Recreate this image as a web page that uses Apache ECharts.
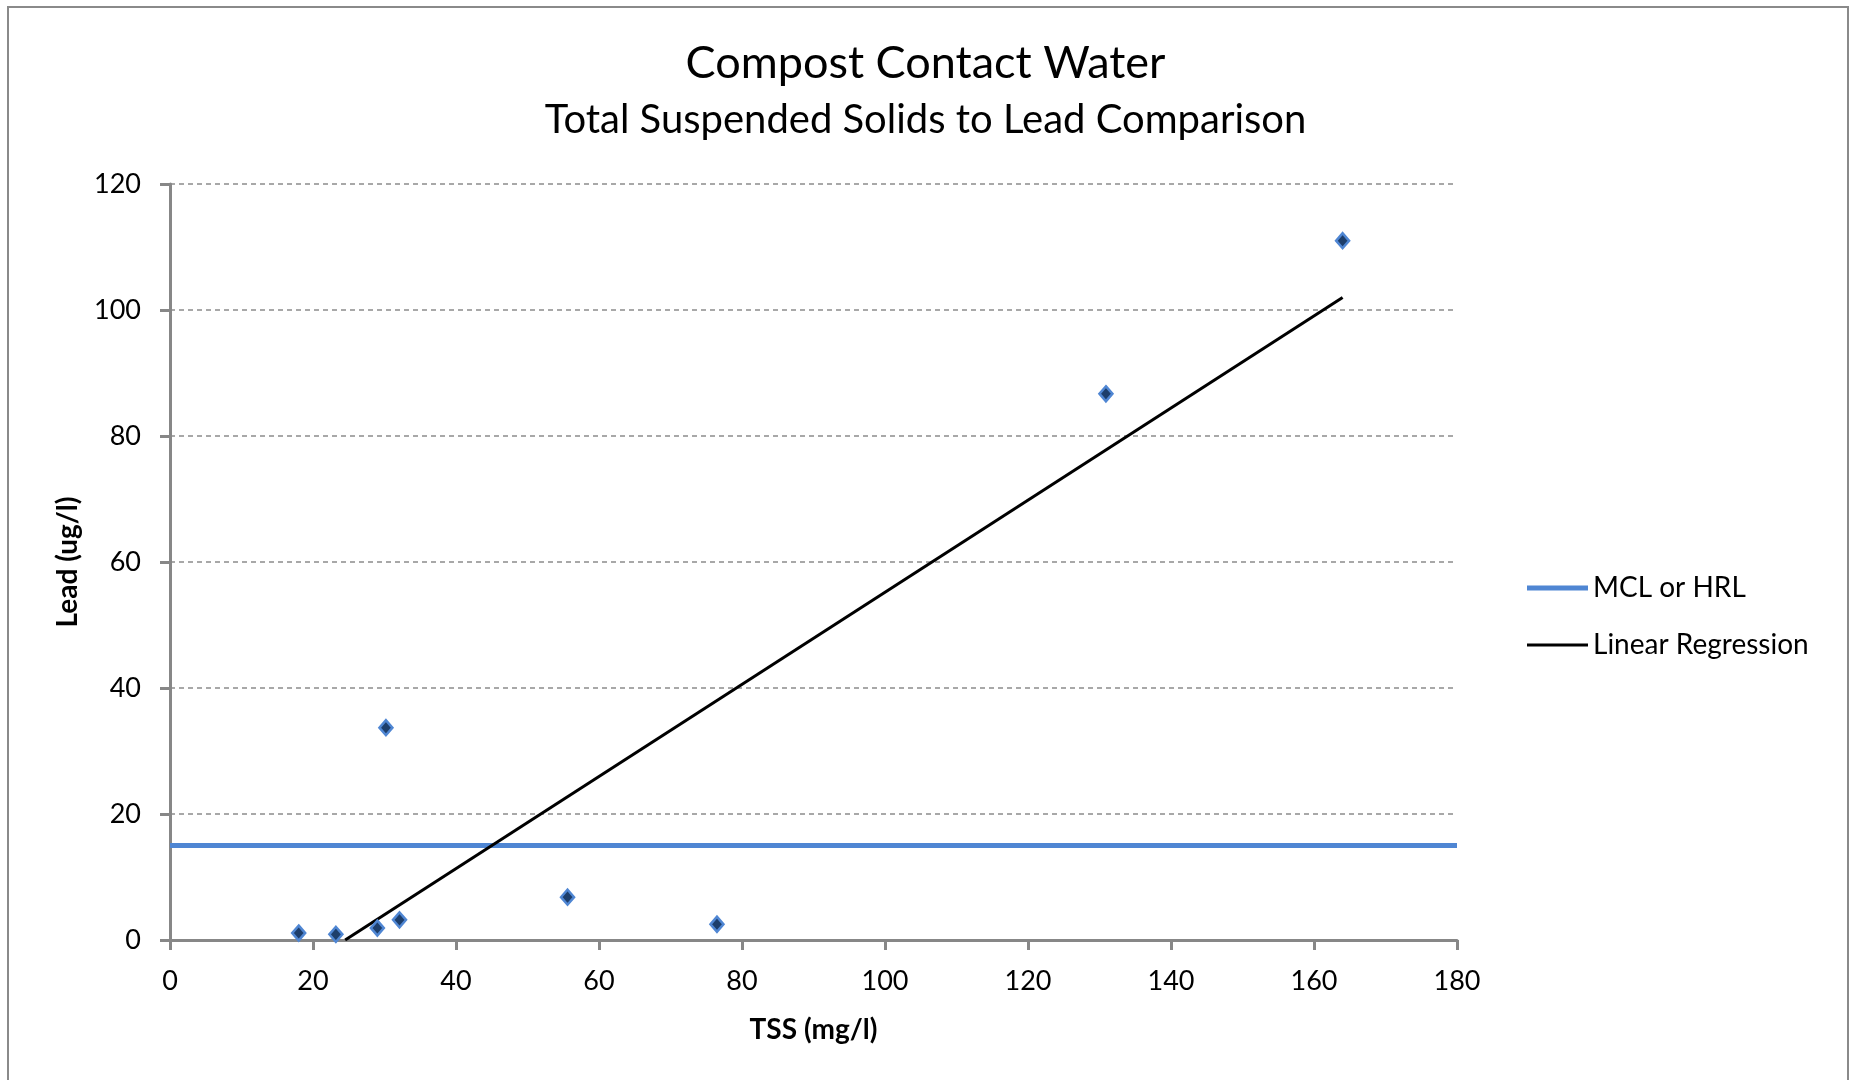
<!DOCTYPE html>
<html>
<head>
<meta charset="utf-8">
<script src="https://cdn.jsdelivr.net/npm/echarts@6/dist/echarts.min.js"></script>
<style>
html,body{margin:0;padding:0;background:#fff;}
#c{width:1851px;height:1080px;}
</style>
</head>
<body>
<div id="c"></div>
<script>
// Observed samples: TSS (mg/l) vs Lead (ug/l)
const tss  = [18.0, 23.2, 29.0, 32.1, 30.2, 55.6, 76.5, 130.9, 164.0];
const lead = [1.1, 0.9, 1.9, 3.2, 33.7, 6.8, 2.5, 86.7, 111.0];
// MCL or HRL reference level
const mclX = [0, 180];
const mclY = [15, 15];
// Linear regression line endpoints as drawn
const regX = [24.5, 164];
const regY = [0, 102];
const xTicks = [0, 20, 40, 60, 80, 100, 120, 140, 160, 180];
const yTicks = [0, 20, 40, 60, 80, 100, 120];

const FONT = 'Lato, "Open Sans", sans-serif';
const chart = echarts.init(document.getElementById('c'));
const zip = (a, b) => a.map((v, i) => [v, b[i]]);

chart.setOption({
  animation: false,
  backgroundColor: '#fff',
  graphic: [{
    type: 'rect', silent: true,
    shape: {x: 8, y: 7, width: 1840, height: 1100},
    style: {fill: 'none', stroke: '#8a8a8a', lineWidth: 2}
  }],
  title: [
    {text: 'Compost Contact Water', left: 'center', top: 36,
     textStyle: {fontFamily: FONT, fontSize: 45, fontWeight: 'normal', color: '#000'}},
    {text: 'Total Suspended Solids to Lead Comparison', left: 'center', top: 95,
     textStyle: {fontFamily: FONT, fontSize: 40, fontWeight: 'normal', color: '#000'}}
  ],
  grid: {left: 170, right: 394, top: 184, bottom: 140, containLabel: false},
  legend: [
    {data: ['MCL or HRL'], left: 1522, top: 569, icon: 'rect', itemWidth: 61, itemHeight: 5,
     textStyle: {fontFamily: FONT, fontSize: 28, color: '#000', padding: [0, 0, 0, 0]}},
    {data: ['Linear Regression'], left: 1522, top: 626, icon: 'rect', itemWidth: 61, itemHeight: 3,
     textStyle: {fontFamily: FONT, fontSize: 28, color: '#000', padding: [0, 0, 0, 0]}}
  ],
  xAxis: {
    type: 'value', min: xTicks[0], max: xTicks[xTicks.length - 1], interval: 20,
    name: 'TSS (mg/l)', nameLocation: 'middle', nameGap: 76,
    nameTextStyle: {fontFamily: FONT, fontSize: 28, fontWeight: 'bold', color: '#000'},
    axisLine: {lineStyle: {color: '#878787', width: 3}},
    axisTick: {show: true, inside: false, length: 10, lineStyle: {color: '#878787', width: 3}},
    axisLabel: {margin: 28, fontFamily: FONT, fontSize: 27, color: '#000'},
    splitLine: {show: false}
  },
  yAxis: {
    type: 'value', min: yTicks[0], max: yTicks[yTicks.length - 1], interval: 20,
    name: 'Lead (ug/l)', nameLocation: 'middle', nameGap: 88, nameRotate: 90,
    nameTextStyle: {fontFamily: FONT, fontSize: 28, fontWeight: 'bold', color: '#000'},
    axisLine: {show: true, lineStyle: {color: '#878787', width: 3}},
    axisTick: {show: true, inside: false, length: 10, lineStyle: {color: '#878787', width: 3}},
    axisLabel: {margin: 29, fontFamily: FONT, fontSize: 27, color: '#000'},
    splitLine: {show: true, lineStyle: {color: '#8c8c8c', width: 1.5, type: [5, 4]}}
  },
  series: [
    {
      name: 'MCL or HRL', type: 'line', data: zip(mclX, mclY), symbol: 'none',
      lineStyle: {color: '#4F86D3', width: 5}, itemStyle: {color: '#4F86D3'}, z: 2
    },
    {
      name: 'Linear Regression', type: 'line', data: zip(regX, regY), symbol: 'none',
      lineStyle: {color: '#000', width: 3}, itemStyle: {color: '#000'}, z: 3
    },
    {
      name: 'Lead', type: 'scatter', data: zip(tss, lead), symbol: 'diamond', symbolSize: [13, 15],
      itemStyle: {color: '#1D3E6B', borderColor: '#4F86D3', borderWidth: 2.5, opacity: 1}, z: 4
    }
  ]
});
</script>
</body>
</html>
